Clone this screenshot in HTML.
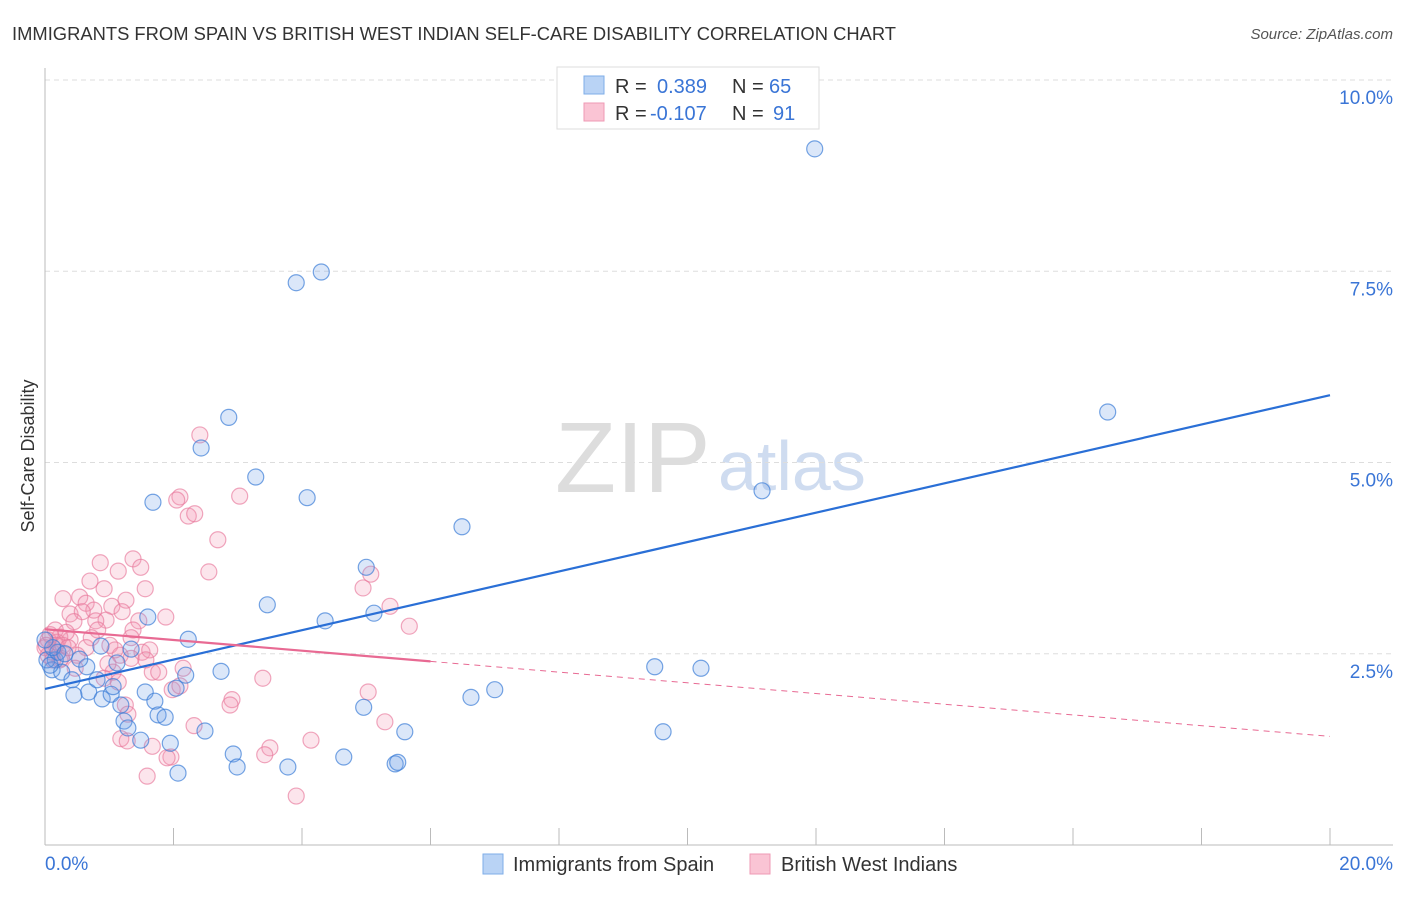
<!DOCTYPE html>
<html><head><meta charset="utf-8"><style>
body{margin:0;background:#fff;font-family:"Liberation Sans",sans-serif}
svg text{font-family:"Liberation Sans",sans-serif}
</style></head><body>
<svg id="c" width="1406" height="892">
<text x="12" y="40" font-size="18" fill="#333" textLength="884" lengthAdjust="spacingAndGlyphs">IMMIGRANTS FROM SPAIN VS BRITISH WEST INDIAN SELF-CARE DISABILITY CORRELATION CHART</text>
<text x="1393" y="39" font-size="15" fill="#555" font-style="italic" text-anchor="end">Source: ZipAtlas.com</text>
<text x="34" y="456" font-size="18" fill="#333" transform="rotate(-90 34 456)" text-anchor="middle">Self-Care Disability</text>
<text x="555" y="492" font-size="100" fill="#ddd" font-family="Liberation Serif">ZIP</text>
<text x="718" y="490" font-size="70" fill="#cfdcf0">atlas</text>
<g id="grid"></g><g id="pts"></g><g id="lines"></g>
<g>
<rect x="557" y="67" width="262" height="62" fill="#fff" stroke="#ddd"/>
<rect x="584" y="76" width="20" height="18" fill="#b9d3f5" stroke="#7eaee8"/>
<rect x="584" y="103" width="20" height="18" fill="#fac4d4" stroke="#ef9ab4"/>
<text x="615" y="93" font-size="20" fill="#333">R = <tspan x="657" fill="#3a75d6">0.389</tspan><tspan x="732">N = </tspan><tspan x="769" fill="#3a75d6">65</tspan></text>
<text x="615" y="120" font-size="20" fill="#333">R = <tspan x="650" fill="#3a75d6">-0.107</tspan><tspan x="732">N = </tspan><tspan x="773" fill="#3a75d6">91</tspan></text>
</g>
<g>
<rect x="483" y="854" width="20" height="20" fill="#b9d3f5" stroke="#7eaee8"/>
<text x="513" y="871" font-size="20" fill="#333">Immigrants from Spain</text>
<rect x="750" y="854" width="20" height="20" fill="#fac4d4" stroke="#ef9ab4"/>
<text x="781" y="871" font-size="20" fill="#333">British West Indians</text>
</g>
</svg>
<script>
const yTicks=[2.5,5.0,7.5,10.0];
const xTickLabels=["0.0%","20.0%"];
const blueX=[11.98,3.91,4.30,16.54,2.86,2.43,3.28,1.68,4.08,11.16,6.49,5.00,3.46,1.60,5.12,4.36,2.23,1.34,0.87,1.12,0.65,0.16,0.11,0.26,0.42,0.68,0.45,0.89,1.03,1.06,1.56,1.18,1.23,1.71,1.29,1.49,1.76,1.87,1.95,2.04,2.07,2.19,2.49,2.74,2.93,2.99,3.78,4.65,4.96,5.45,5.49,5.60,6.63,7.00,9.49,10.21,9.62,0.03,0.08,0.20,0.12,0.31,0.00,0.54,0.81];
const blueY=[9.10,7.35,7.49,5.66,5.59,5.19,4.81,4.48,4.54,4.63,4.16,3.63,3.14,2.98,3.03,2.93,2.69,2.56,2.60,2.38,2.33,2.42,2.29,2.26,2.16,2.00,1.96,1.91,1.97,2.07,2.00,1.83,1.62,1.88,1.53,1.37,1.70,1.67,1.33,2.05,0.94,2.22,1.49,2.27,1.19,1.02,1.02,1.15,1.80,1.06,1.08,1.48,1.93,2.03,2.33,2.31,1.48,2.42,2.35,2.52,2.58,2.50,2.68,2.43,2.16];
const pinkX=[2.41,2.10,2.05,3.03,2.23,2.33,2.69,1.37,0.86,1.49,1.14,2.55,0.70,1.56,0.92,0.28,0.54,0.64,1.26,0.76,1.04,1.20,0.39,0.58,1.88,1.46,0.95,0.45,0.79,1.37,0.82,0.72,1.34,0.39,0.23,0.05,0.17,1.01,0.64,1.51,1.63,1.17,1.34,0.50,0.11,0.23,0.00,0.47,2.15,1.67,1.06,0.92,1.14,1.98,2.10,2.91,2.88,3.39,5.03,5.29,5.67,5.37,5.07,4.95,1.25,1.29,1.18,1.28,1.67,1.96,1.90,1.59,2.32,3.50,3.42,4.14,3.91,0.19,0.28,0.08,0.16,0.33,0.05,0.12,0.02,0.98,0.25,0.36,1.57,1.77,1.09];
const pinkY=[5.36,4.55,4.51,4.56,4.30,4.33,3.99,3.74,3.69,3.63,3.58,3.57,3.45,3.35,3.35,3.22,3.24,3.16,3.20,3.07,3.12,3.05,3.02,3.05,2.98,2.93,2.94,2.92,2.93,2.81,2.81,2.71,2.71,2.68,2.72,2.68,2.61,2.61,2.58,2.52,2.55,2.48,2.44,2.48,2.52,2.42,2.58,2.31,2.31,2.26,2.26,2.18,2.13,2.03,2.08,1.90,1.83,2.18,2.00,1.61,2.86,3.12,3.54,3.36,1.83,1.71,1.39,1.36,1.29,1.15,1.14,0.90,1.56,1.27,1.18,1.37,0.64,2.65,2.61,2.75,2.81,2.78,2.48,2.42,2.61,2.37,2.44,2.58,2.42,2.26,2.55];
const blueTrend=[2.04,5.88];
const pinkTrend=[2.82,1.42];
const pinkSolidEnd=6.0;
const NS="http://www.w3.org/2000/svg";
const X=v=>45+v*64.25, Y=v=>845-v*76.5;
function mk(tag,attrs,parent){const e=document.createElementNS(NS,tag);for(const k in attrs)e.setAttribute(k,attrs[k]);parent.appendChild(e);return e;}
const grid=document.getElementById('grid');
yTicks.forEach(t=>{
 const l=mk('line',{x1:45,x2:1393,y1:Y(t),y2:Y(t),stroke:'#ddd','stroke-dasharray':'5,4'},grid);
 
 
 const tx=mk('text',{x:1393,y:Y(t)+24,'font-size':19,fill:'#3a75d6','text-anchor':'end'},grid);
 tx.textContent=t.toFixed(1)+'%';
 
 
});
mk('line',{x1:45,x2:45,y1:68,y2:845,stroke:'#bbb'},grid);
mk('line',{x1:45,x2:1393,y1:845,y2:845,stroke:'#bbb'},grid);
for(let i=0;i<=10;i++){mk('line',{x1:X(i*2),x2:X(i*2),y1:828,y2:845,stroke:'#bbb'},grid);}
const xl0=mk('text',{x:45,y:870,'font-size':19,fill:'#3a75d6'},grid);xl0.textContent=xTickLabels[0];


const xl1=mk('text',{x:1393,y:870,'font-size':19,fill:'#3a75d6','text-anchor':'end'},grid);xl1.textContent=xTickLabels[1];


const pts=document.getElementById('pts');
pinkX.forEach((x,i)=>{const c=mk('circle',{cx:X(x),cy:Y(pinkY[i]),r:8,fill:'rgba(242,150,180,0.25)',stroke:'rgba(232,120,155,0.65)','stroke-width':1.2},pts);
 
 });
blueX.forEach((x,i)=>{const c=mk('circle',{cx:X(x),cy:Y(blueY[i]),r:8,fill:'rgba(110,160,230,0.25)',stroke:'rgba(60,125,215,0.7)','stroke-width':1.2},pts);
 
 });
const lines=document.getElementById('lines');
const bl=mk('line',{x1:X(0),y1:Y(blueTrend[0]),x2:X(20),y2:Y(blueTrend[1]),stroke:'#2a6fd6','stroke-width':2.2},lines);


const pm=pinkTrend[0]+(pinkTrend[1]-pinkTrend[0])*pinkSolidEnd/20;
const pl=mk('line',{x1:X(0),y1:Y(pinkTrend[0]),x2:X(pinkSolidEnd),y2:Y(pm),stroke:'#e86a93','stroke-width':2.2},lines);


const pd=mk('line',{x1:X(pinkSolidEnd),y1:Y(pm),x2:X(20),y2:Y(pinkTrend[1]),stroke:'#e86a93','stroke-width':1,'stroke-dasharray':'6,5'},lines);


</script>
</body></html>
